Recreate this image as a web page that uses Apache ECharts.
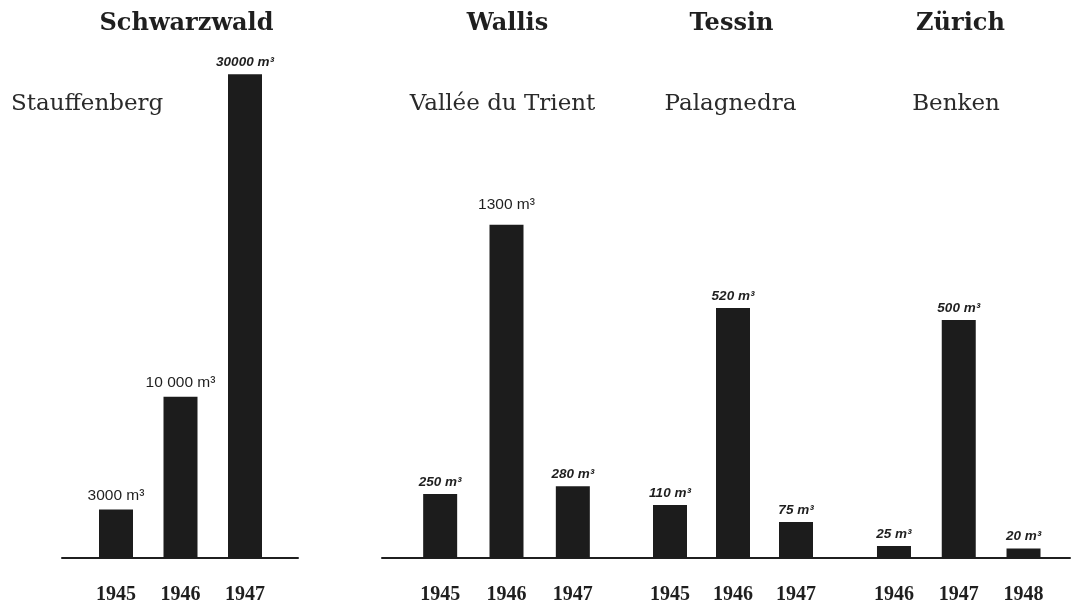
<!DOCTYPE html>
<html>
<head>
<meta charset="utf-8">
<script src="https://cdn.jsdelivr.net/npm/echarts@6/dist/echarts.min.js"></script>
<style>
html,body{margin:0;padding:0;background:#ffffff;}
#chart{width:1076px;height:606px;}
</style>
</head>
<body>
<div id="chart"></div>
<script>
// ---- data ----
const regionTitles = ['Schwarzwald', 'Wallis', 'Tessin', 'Zürich'];
const placeNames = ['Stauffenberg', 'Vallée du Trient', 'Palagnedra', 'Benken'];

const schwarzwaldYears = ['1945', '1946', '1947'];
const schwarzwaldValues = [3000, 10000, 30000];
const schwarzwaldLabels = ['3000 m³', '10 000 m³', '30000 m³'];

const wallisYears = ['1945', '1946', '1947'];
const wallisValues = [250, 1300, 280];
const wallisLabels = ['250 m³', '1300 m³', '280 m³'];

const tessinYears = ['1945', '1946', '1947'];
const tessinValues = [110, 520, 75];
const tessinLabels = ['110 m³', '520 m³', '75 m³'];

const zurichYears = ['1946', '1947', '1948'];
const zurichValues = [25, 500, 20];
const zurichLabels = ['25 m³', '500 m³', '20 m³'];

// ---- layout / style ----
const INK = '#1f1f1f';
const BAR = '#1c1c1c';
const gridTop = 58, gridBottom = 48;

const yearsList = [schwarzwaldYears, wallisYears, tessinYears, zurichYears];
const valuesList = [schwarzwaldValues, wallisValues, tessinValues, zurichValues];
const labelsList = [schwarzwaldLabels, wallisLabels, tessinLabels, zurichLabels];

const layout = [
  {left: 83.75, width: 193.5, max: 31000, titleX: 186.5, placeX: 11, placeAlign: 'left'},
  {left: 407,   width: 199,   max: 1950,  titleX: 507.5, placeX: 502.5, placeAlign: 'center'},
  {left: 638.5, width: 189,   max: 1040,  titleX: 731.5, placeX: 730.5, placeAlign: 'center'},
  {left: 861.6, width: 194.3, max: 1050,  titleX: 960.5, placeX: 956,   placeAlign: 'center'}
];

// printed (typeset) labels vs hand-lettered labels
const printedLabel = {fontFamily: 'Liberation Sans', fontSize: 15.5, fontStyle: 'normal', fontWeight: 'normal', distance: 6};
const handLabel = {fontFamily: 'Liberation Sans', fontSize: 13.5, fontStyle: 'italic', fontWeight: 'bold', distance: 5};
const printedSet = {'0-0': true, '0-1': true, '1-1': true};

const grids = [], xAxes = [], yAxes = [], series = [], titles = [];

layout.forEach((L, g) => {
  grids.push({left: L.left, width: L.width, top: gridTop, bottom: gridBottom});
  xAxes.push({
    type: 'category', gridIndex: g, data: yearsList[g],
    axisLine: {show: true, lineStyle: {color: INK, width: 2}},
    axisTick: {show: false},
    axisLabel: {margin: 27, color: INK, fontFamily: 'Liberation Serif', fontWeight: 'bold', fontSize: 20}
  });
  yAxes.push({
    type: 'value', gridIndex: g, min: 0, max: L.max, show: false,
    splitLine: {show: false}
  });
  series.push({
    type: 'bar', xAxisIndex: g, yAxisIndex: g, barWidth: 34,
    itemStyle: {color: BAR},
    data: valuesList[g].map((v, i) => {
      const st = printedSet[g + '-' + i] ? printedLabel : handLabel;
      const dist = (g === 1 && i === 1) ? 12 : st.distance;
      return {
        value: v,
        label: {
          show: true, position: 'top', distance: dist, color: INK,
          fontFamily: st.fontFamily, fontSize: st.fontSize, fontStyle: st.fontStyle, fontWeight: st.fontWeight,
          formatter: labelsList[g][i]
        }
      };
    })
  });
  titles.push({
    text: regionTitles[g], left: L.titleX, top: 12, textAlign: 'center', padding: 0,
    textStyle: {fontFamily: 'DejaVu Serif', fontWeight: 'bold', fontSize: 24, color: INK}
  });
  titles.push({
    text: placeNames[g], left: L.placeX, top: 93, textAlign: L.placeAlign, padding: 0,
    textStyle: {fontFamily: 'DejaVu Serif', fontWeight: 'normal', fontSize: 23, color: '#2a2a2a'}
  });
});

// baseline rules spanning each panel (axis lines only)
const baselines = [{left: 62, right: 1076 - 298}, {left: 382, right: 6}];
baselines.forEach(b => {
  const gi = grids.length;
  grids.push({left: b.left, right: b.right, top: gridTop, bottom: gridBottom});
  xAxes.push({
    type: 'value', gridIndex: gi, min: 0, max: 1,
    axisLine: {show: true, onZero: false, lineStyle: {color: INK, width: 2}},
    axisTick: {show: false}, axisLabel: {show: false}, splitLine: {show: false}
  });
  yAxes.push({type: 'value', gridIndex: gi, min: 0, max: 1, show: false, splitLine: {show: false}});
});

const chart = echarts.init(document.getElementById('chart'), null, {renderer: 'canvas'});
chart.setOption({
  backgroundColor: '#ffffff',
  animation: false,
  title: titles,
  grid: grids,
  xAxis: xAxes,
  yAxis: yAxes,
  series: series
});
</script>
</body>
</html>
